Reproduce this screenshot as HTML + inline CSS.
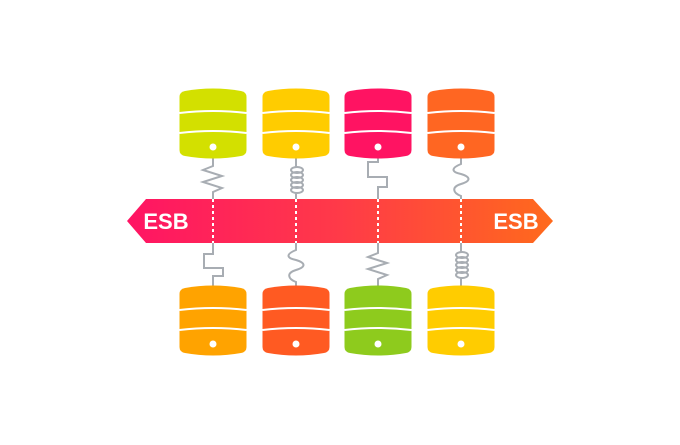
<!DOCTYPE html>
<html><head><style>html,body{margin:0;padding:0;background:#fff}</style></head><body>
<svg width="680" height="440" viewBox="0 0 680 440" xmlns="http://www.w3.org/2000/svg">
<defs>
<linearGradient id="g" x1="0" x2="1" y1="0" y2="0">
<stop offset="0" stop-color="#ff1464"/><stop offset="0.5" stop-color="#ff3a48"/><stop offset="1" stop-color="#ff6a1c"/>
</linearGradient>
<g id="cyl">
<path d="M-33.5,8 Q-33.5,3 -28,2 Q0,-3 28,2 Q33.5,3 33.5,8 L33.5,61 Q33.5,66 28,67 Q0,72 -28,67 Q-33.5,66 -33.5,61 Z"/>
<path d="M-33.5,24 Q0,20 33.5,24 M-33.5,44 Q0,40 33.5,44" stroke="#fff" stroke-width="2" fill="none"/>
<circle cx="0" cy="58" r="3.5" fill="#fff"/>
</g>
<g id="coil" stroke="#a8adb3" stroke-width="2" fill="none">
<ellipse cx="1" cy="0" rx="6" ry="3"/><ellipse cx="1" cy="5" rx="6" ry="3"/><ellipse cx="1" cy="10" rx="6" ry="3"/><ellipse cx="1" cy="15" rx="6" ry="3"/><ellipse cx="1" cy="20" rx="6" ry="3"/>
</g>
</defs>
<polygon points="146,199 533,199 553,221 533,243 146,243 127,221" fill="url(#g)"/>
<text x="166" y="229" fill="#fff" font-family="Liberation Sans,sans-serif" font-weight="bold" font-size="22" text-anchor="middle">ESB</text>
<text x="516" y="229" fill="#fff" font-family="Liberation Sans,sans-serif" font-weight="bold" font-size="22" text-anchor="middle">ESB</text>
<g stroke="#fff" stroke-width="2" stroke-dasharray="3,3">
<line x1="213" y1="199" x2="213" y2="243"/><line x1="296" y1="199" x2="296" y2="243"/>
<line x1="378" y1="199" x2="378" y2="243"/><line x1="461" y1="199" x2="461" y2="243"/>
</g>
<g stroke="#a8adb3" stroke-width="2" fill="none">
<path d="M213,158 L213,166 L203,170 L222,176 L203,182 L222,188 L213,192 L213,199"/>
<path d="M296,158 L296,167 M296,193 L296,199"/>
<path d="M378,158 L378,162 L368,162 L368,177 L387,177 L387,187 L378,187 L378,199"/>
<path d="M461,158 L461,164 c-10,4 -10,8 0,10 c10,3 10,7 0,10 c-10,3 -8,9 0,12 L461,199"/>
<path d="M213,243 L213,254 L204,254 L204,268 L223,268 L223,276 L213,276 L213,286"/>
<path d="M296,243 L296,250 c-10,4 -10,8 0,10 c10,3 10,7 0,10 c-10,3 -8,9 0,12 L296,286"/>
<path d="M378,243 L378,253 L368,257 L387,263 L368,269 L387,275 L378,279 L378,286"/>
<path d="M461,243 L461,252 M461,278 L461,286"/>
</g>
<use href="#coil" x="296" y="170"/>
<use href="#coil" x="461" y="255"/>
<use href="#cyl" x="213" y="89" fill="#d3e000"/>
<use href="#cyl" x="296" y="89" fill="#ffcc00"/>
<use href="#cyl" x="378" y="89" fill="#ff1362"/>
<use href="#cyl" x="461" y="89" fill="#ff6622"/>
<use href="#cyl" x="213" y="286" fill="#ffa300"/>
<use href="#cyl" x="296" y="286" fill="#ff5a22"/>
<use href="#cyl" x="378" y="286" fill="#8ecb1d"/>
<use href="#cyl" x="461" y="286" fill="#ffcc00"/>
</svg>
</body></html>
